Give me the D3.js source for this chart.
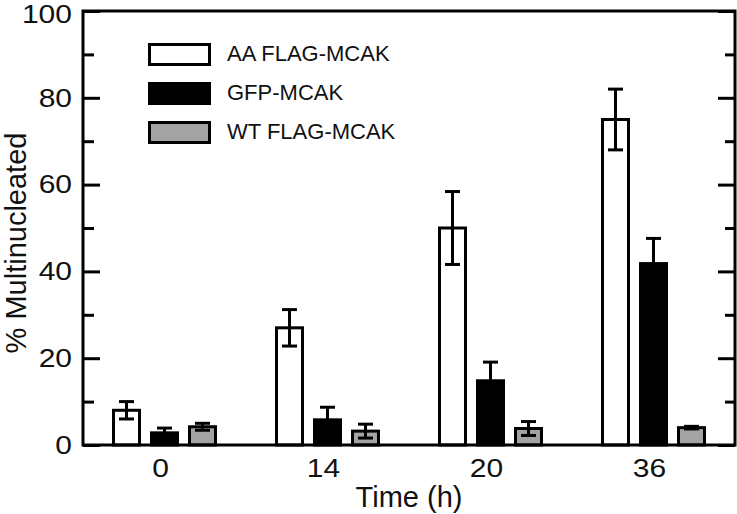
<!DOCTYPE html>
<html>
<head>
<meta charset="utf-8">
<script src="https://cdn.jsdelivr.net/npm/d3@7"></script>
<style>
  body { margin: 0; background: #fff; }
  svg { display: block; font-family: "Liberation Sans", Arial, sans-serif; }
</style>
</head>
<body>
<svg id="svg" width="737" height="514"></svg>
<script>
// categories and series values
let times = ["0", "14", "20", "36"];
let seriesNames = ["AA FLAG-MCAK", "GFP-MCAK", "WT FLAG-MCAK"];
let aaValues = [8.0, 27.0, 50.0, 75.0];
let aaErrors = [2.0, 4.2, 8.4, 7.0];
let gfpValues = [2.8, 5.8, 14.8, 41.8];
let gfpErrors = [1.1, 2.9, 4.3, 5.8];
let wtValues = [4.2, 3.2, 3.8, 4.0];
let wtErrors = [0.8, 1.6, 1.6, 0.3];
let yTicks = [0, 20, 40, 60, 80, 100];
let yMinorTicks = [10, 30, 50, 70, 90];

let fills = {"AA FLAG-MCAK": "#ffffff", "GFP-MCAK": "#000000", "WT FLAG-MCAK": "#a3a3a3"};

let svg = d3.select("#svg");
let plot = {left: 83, right: 735, top: 11, bottom: 445};

let series = [
	{name: seriesNames[0], values: aaValues, errors: aaErrors},
	{name: seriesNames[1], values: gfpValues, errors: gfpErrors},
	{name: seriesNames[2], values: wtValues, errors: wtErrors}
];

let yScale = d3.scaleLinear().domain([0, 100]).range([plot.bottom, plot.top]);

let xScale = d3.scaleBand()
		.domain(times)
		.range([plot.left, plot.right])
		.padding(0);

// bars inside a group, centred on the group middle
let innerScale = d3.scaleBand()
		.domain(seriesNames)
		.range([-57, 57])
		.paddingInner(0.316)
		.paddingOuter(0.158);

// flatten to one record per bar
let bars = [];
series.forEach(function(s) {
	s.values.forEach(function(v, i) {
		bars.push({name: s.name, time: times[i], value: v, err: s.errors[i]});
	});
});

let barX = function(d) {
	return xScale(d.time) + xScale.bandwidth() / 2 + innerScale(d.name);
};

svg.append("g").selectAll("rect").data(bars).enter()
		.append("rect")
		.attr("x", barX)
		.attr("y", function(d) { return yScale(d.value); })
		.attr("width", innerScale.bandwidth())
		.attr("height", function(d) { return plot.bottom - yScale(d.value); })
		.attr("fill", function(d) { return fills[d.name]; })
		.attr("stroke", "#000")
		.attr("stroke-width", 3);

// error bars (both directions, drawn over the bars)
let errGroup = svg.append("g").attr("stroke", "#000").attr("stroke-width", 3);
let capHalf = 7.5;
bars.forEach(function(d) {
	let cx = barX(d) + innerScale.bandwidth() / 2;
	let yHi = yScale(d.value + d.err);
	let yLo = yScale(Math.max(0, d.value - d.err));
	errGroup.append("line").attr("x1", cx).attr("x2", cx).attr("y1", yHi).attr("y2", yLo);
	errGroup.append("line").attr("x1", cx - capHalf).attr("x2", cx + capHalf).attr("y1", yHi).attr("y2", yHi);
	errGroup.append("line").attr("x1", cx - capHalf).attr("x2", cx + capHalf).attr("y1", yLo).attr("y2", yLo);
});

// frame
svg.append("rect")
		.attr("x", plot.left)
		.attr("y", plot.top)
		.attr("width", plot.right - plot.left)
		.attr("height", plot.bottom - plot.top)
		.attr("fill", "none")
		.attr("stroke", "#000")
		.attr("stroke-width", 3);

// left axis, inward ticks
let yAxis = svg.append("g")
		.attr("transform", "translate(" + plot.left + ",0)")
		.call(d3.axisRight(yScale).tickValues(yTicks).tickSize(17).tickFormat(""));
yAxis.select(".domain").remove();
yAxis.selectAll("line").attr("stroke-width", 3);

let yMinor = svg.append("g")
		.attr("transform", "translate(" + plot.left + ",0)")
		.call(d3.axisRight(yScale).tickValues(yMinorTicks).tickSize(11).tickFormat(""));
yMinor.select(".domain").remove();
yMinor.selectAll("line").attr("stroke-width", 3);

// right axis, inward ticks
let rAxis = svg.append("g")
		.attr("transform", "translate(" + plot.right + ",0)")
		.call(d3.axisLeft(yScale).tickValues(yTicks).tickSize(17).tickFormat(""));
rAxis.select(".domain").remove();
rAxis.selectAll("line").attr("stroke-width", 3);

let rMinor = svg.append("g")
		.attr("transform", "translate(" + plot.right + ",0)")
		.call(d3.axisLeft(yScale).tickValues(yMinorTicks).tickSize(10).tickFormat(""));
rMinor.select(".domain").remove();
rMinor.selectAll("line").attr("stroke-width", 3);

// y tick labels (the top one sits a touch lower so it stays inside the page)
svg.append("g").selectAll("text").data(yTicks).enter()
		.append("text")
		.attr("transform", function(d) {
			let y = yScale(d) + (d === 100 ? 3 : 0);
			return "translate(72," + y + ") scale(1.2,1)";
		})
		.attr("dy", "0.35em")
		.attr("text-anchor", "end")
		.attr("font-size", 25)
		.attr("fill", "#111")
		.text(function(d) { return d; });

// x tick labels
svg.append("g").selectAll("text").data(times).enter()
		.append("text")
		.attr("transform", function(d) { return "translate(" + (xScale(d) + xScale.bandwidth() / 2 - 4) + ",477) scale(1.2,1)"; })
		.attr("text-anchor", "middle")
		.attr("font-size", 25)
		.attr("fill", "#111")
		.text(function(d) { return d; });

// axis titles
svg.append("text")
		.attr("transform", "translate(26,243) rotate(-90)")
		.attr("text-anchor", "middle")
		.attr("font-size", 29)
		.attr("fill", "#111")
		.text("% Multinucleated");

svg.append("text")
		.attr("x", (plot.left + plot.right) / 2)
		.attr("y", 507)
		.attr("text-anchor", "middle")
		.attr("font-size", 29)
		.attr("fill", "#111")
		.text("Time (h)");

// legend
let legend = svg.append("g").selectAll("g").data(seriesNames).enter()
		.append("g")
		.attr("transform", function(d, i) { return "translate(149.5," + (44.5 + i * 39) + ")"; });

legend.append("rect")
		.attr("width", 60)
		.attr("height", 20)
		.attr("fill", function(d) { return fills[d]; })
		.attr("stroke", "#000")
		.attr("stroke-width", 3);

legend.append("text")
		.attr("x", 77.5)
		.attr("y", 9)
		.attr("dy", "0.36em")
		.attr("font-size", 22)
		.attr("fill", "#111")
		.text(function(d) { return d; });
</script>
</body>
</html>
